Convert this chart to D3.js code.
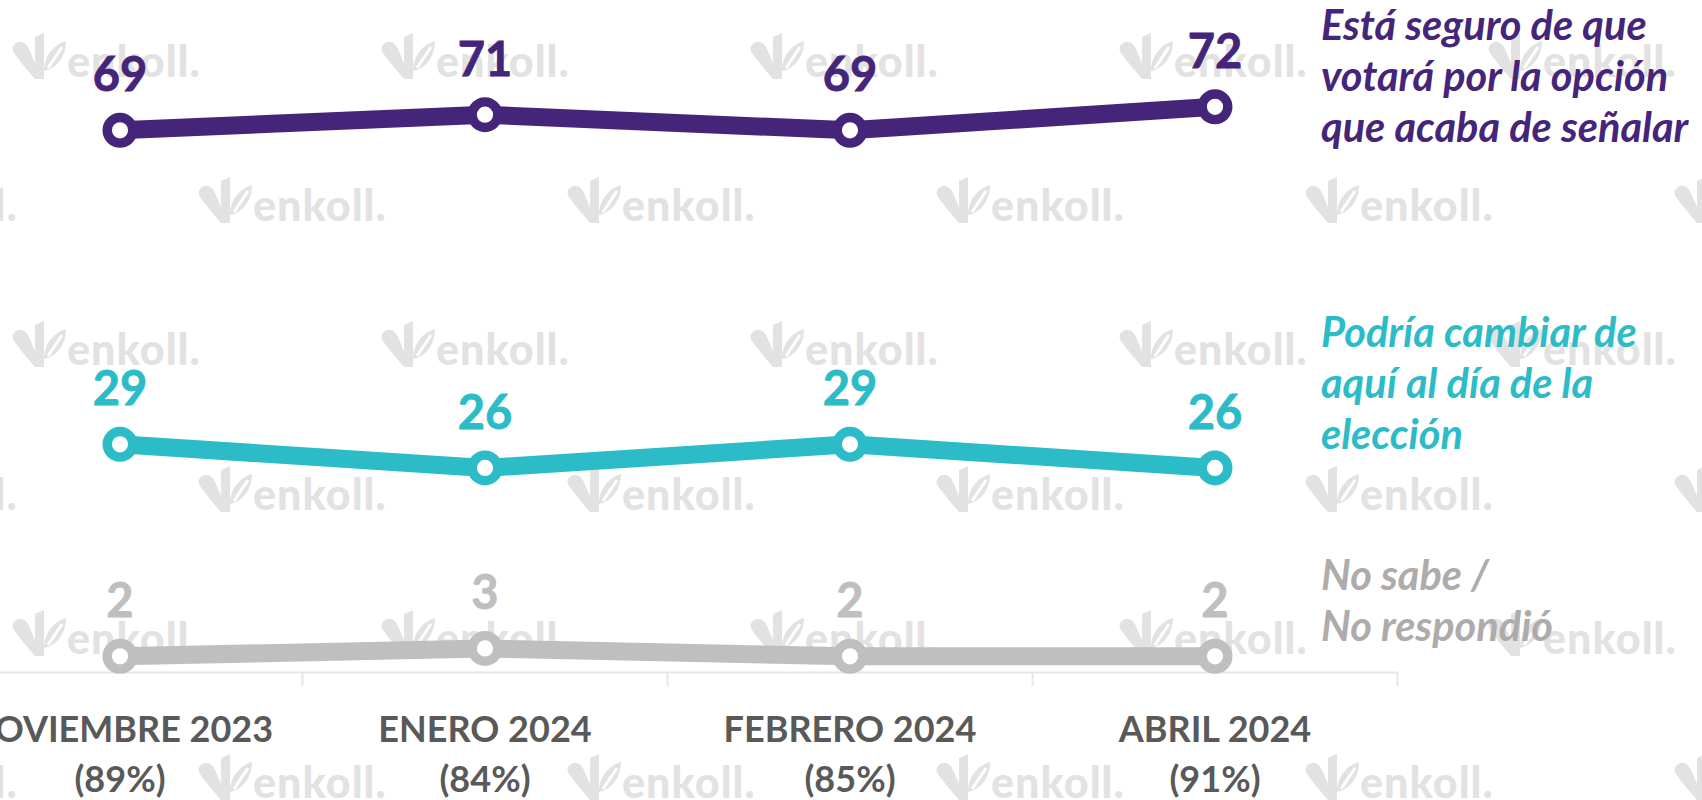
<!DOCTYPE html>
<html>
<head>
<meta charset="utf-8">
<script src="https://cdn.jsdelivr.net/npm/d3@7"></script>
<style>
  html, body { margin: 0; padding: 0; background: #ffffff; }
  svg { display: block; }
</style>
</head>
<body>
<svg id="chart" width="1702" height="800"></svg>
<script>
// ---- data ----
const categories = ["NOVIEMBRE 2023", "ENERO 2024", "FEBRERO 2024", "ABRIL 2024"];
const categorySubLabels = ["(89%)", "(84%)", "(85%)", "(91%)"];
const seguroValues = [69, 71, 69, 72];
const podriaValues = [29, 26, 29, 26];
const noSabeValues = [2, 3, 2, 2];
const seguroLabel = ["Está seguro de que", "votará por la opción", "que acaba de señalar"];
const podriaLabel = ["Podría cambiar de", "aquí al día de la", "elección"];
const noSabeLabel = ["No sabe /", "No respondió"];

const series = [
  { name: "seguro", values: seguroValues, label: seguroLabel, color: "#45257A", textColor: "#45257A", labelColor: "#45257A", legendY: 40 },
  { name: "podria", values: podriaValues, label: podriaLabel, color: "#2CBCC7", textColor: "#2CBCC7", labelColor: "#2CBCC7", legendY: 347 },
  { name: "nosabe", values: noSabeValues, label: noSabeLabel, color: "#BFBFBF", textColor: "#AEABAB", labelColor: "#BFBFBF", legendY: 590 }
];

const svg = d3.select("#chart");
const font = "Lato, 'Open Sans', sans-serif";

// ---- watermark ----
const wm = svg.append("g").attr("class", "watermark");
const rowsA = [77, 365, 654], rowsB = [221, 510, 798];
const period = 369;
function stamp(x, y) {
  const g = wm.append("g").attr("transform", `translate(${x},${y})`).attr("fill", "#E2E2E2");
  // logo
  g.append("path").attr("d", "M1,-32 C6,-38 13,-35 16,-28 L22,-14 L22,-40 L31,-44 L31,2 L22,2 C15,-6 6,-17 1,-24 C-1,-27 -1,-30 1,-32 Z");
  g.append("path").attr("d", "M31,-6 C31,-22 42,-33 53,-36 C53,-22 45,-9 31,-6 Z");
  g.append("path").attr("d", "M35,-9 L49,-30").attr("stroke", "#ffffff").attr("stroke-width", 3).attr("fill", "none");
  g.append("text").attr("x", 54).attr("y", 0)
    .attr("font-family", font).attr("font-weight", 900).attr("font-size", 43)
    .attr("letter-spacing", 1).text("enkoll.");
}
rowsA.forEach(y => { for (let k = 0; k < 5; k++) stamp(13 + k * period, y); });
rowsB.forEach(y => { for (let k = -1; k < 5; k++) stamp(199 + k * period, y); });

// ---- scales ----
const x = d3.scaleBand().domain(categories).range([-62.5, 1397.5]).padding(0);
const cx = c => x(c) + x.bandwidth() / 2;
const y = d3.scaleLinear().domain([0, 80]).range([672, 44]);

// ---- axis ----
const axisG = svg.append("g").attr("transform", `translate(0,${y(0)})`)
  .call(d3.axisBottom(x).tickSize(0).tickSizeOuter(0).tickFormat(""));
axisG.select(".domain").attr("stroke", "#E6E6E6").attr("stroke-width", 2);
const edges = categories.slice(1).map(c => x(c)).concat([x.range()[1]]);
axisG.selectAll(".edge").data(edges).enter().append("line")
  .attr("x1", d => d).attr("x2", d => d).attr("y1", 0).attr("y2", 14)
  .attr("stroke", "#E6E6E6").attr("stroke-width", 2);

// category labels
const catG = svg.append("g");
categories.forEach((c, i) => {
  const t = catG.append("text").attr("x", cx(c)).attr("text-anchor", "middle")
    .attr("font-family", font).attr("font-weight", 700).attr("font-size", 36).attr("fill", "#595959");
  t.append("tspan").attr("x", cx(c)).attr("y", 742).text(c);
  t.append("tspan").attr("x", cx(c)).attr("y", 792).text(categorySubLabels[i]);
});

// ---- lines ----
const line = d3.line().x((d, i) => cx(categories[i])).y(d => y(d));
series.forEach(s => {
  const g = svg.append("g");
  g.append("path").datum(s.values).attr("d", line)
    .attr("fill", "none").attr("stroke", s.color).attr("stroke-width", 18)
    .attr("stroke-linejoin", "round");
  g.selectAll("circle").data(s.values).enter().append("circle")
    .attr("cx", (d, i) => cx(categories[i])).attr("cy", d => y(d)).attr("r", 12.8)
    .attr("fill", "#ffffff").attr("stroke", s.color).attr("stroke-width", 9.4);
  g.selectAll(".lbl").data(s.values).enter().append("text")
    .attr("x", (d, i) => cx(categories[i])).attr("y", d => y(d) - 39)
    .attr("text-anchor", "middle").attr("font-family", font).attr("font-weight", 700)
    .attr("font-size", 47).attr("fill", s.labelColor)
    .attr("stroke", s.labelColor).attr("stroke-width", 0.8).text(d => d);
  const lg = svg.append("text").attr("font-family", font).attr("font-weight", 700)
    .attr("font-style", "italic").attr("font-size", 41.5).attr("fill", s.textColor);
  s.label.forEach((ln, j) => {
    lg.append("tspan").attr("x", 1321).attr("y", s.legendY + j * 51).text(ln);
  });
});
</script>
</body>
</html>
